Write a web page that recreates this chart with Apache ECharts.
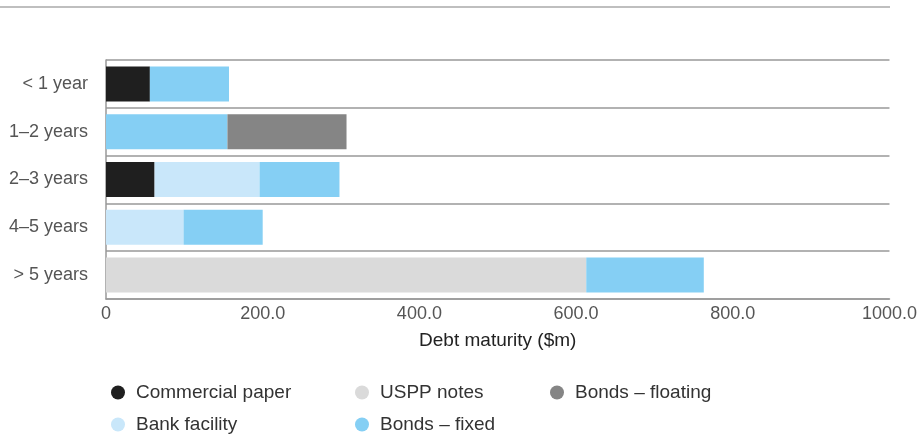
<!DOCTYPE html>
<html>
<head>
<meta charset="utf-8">
<script src="https://cdn.jsdelivr.net/npm/echarts@6/dist/echarts.min.js"></script>
<style>
  html, body { margin: 0; padding: 0; background: #fff; }
  #main { width: 920px; height: 436px; }
</style>
</head>
<body>
<div id="main"></div>
<script>
// maturity buckets, top to bottom
const categories = ['< 1 year', '1–2 years', '2–3 years', '4–5 years', '> 5 years']
const xTicks = [0, 200, 400, 600, 800, 1000]

// $m per bucket
const commercialPaper = [56, null, 62, null, null]
const bankFacility = [null, null, 134, 99, null]
const usppNotes = [null, null, null, null, 613]
const bondsFixed = [101, 155, 102, 101, 150]
const bondsFloating = [null, 152, null, null, null]

const font = 'Liberation Sans, Arial, Helvetica, sans-serif'

const makeSeries = (name, data, color) => ({
  name: name,
  type: 'bar',
  stack: 'total',
  barWidth: 35,
  data: data,
  itemStyle: { color: color },
  emphasis: { disabled: true }
})

// one legend per entry so the two rows line up in columns
const legendItem = (name, left, top) => ({
  left: left,
  top: top,
  padding: 0,
  icon: 'circle',
  itemWidth: 14,
  itemHeight: 14,
  selectedMode: false,
  data: [name],
  textStyle: { fontFamily: font, fontSize: 19, color: '#333', padding: [0, 0, 0, 6] }
})

let option = {
  animation: false,
  textStyle: { fontFamily: font },
  grid: { left: 106, right: 30, top: 60, bottom: 137 },
  graphic: [
    {
      type: 'line',
      shape: { x1: 0, y1: 7, x2: 890, y2: 7 },
      style: { stroke: '#aaa', lineWidth: 1.5 }
    }
  ],
  legend: [
    legendItem('Commercial paper', 111, 383),
    legendItem('Bank facility', 111, 415),
    legendItem('USPP notes', 355, 383),
    legendItem('Bonds – fixed', 355, 415),
    legendItem('Bonds – floating', 550, 383)
  ],
  xAxis: {
    type: 'value',
    min: xTicks[0],
    max: xTicks[xTicks.length - 1],
    interval: 200,
    name: 'Debt maturity ($m)',
    nameLocation: 'middle',
    nameGap: 32,
    nameTextStyle: { fontFamily: font, fontSize: 19, color: '#222' },
    axisLine: { show: true, lineStyle: { color: '#999', width: 1.5 } },
    axisTick: { show: false },
    splitLine: { show: false },
    axisLabel: {
      fontSize: 18,
      color: '#555',
      margin: 6,
      formatter: v => (v === 0 ? '0' : v.toFixed(1))
    }
  },
  yAxis: {
    type: 'category',
    inverse: true,
    data: categories,
    axisLine: { show: true, lineStyle: { color: '#999', width: 1.5 } },
    axisTick: { show: false },
    splitLine: { show: true, lineStyle: { color: '#999', width: 1.5 } },
    axisLabel: { fontSize: 18, color: '#555', margin: 18 }
  },
  series: [
    makeSeries('Commercial paper', commercialPaper, '#1f1f1f'),
    makeSeries('Bank facility', bankFacility, '#c9e7fa'),
    makeSeries('USPP notes', usppNotes, '#dadada'),
    makeSeries('Bonds – fixed', bondsFixed, '#85cff4'),
    makeSeries('Bonds – floating', bondsFloating, '#858585')
  ]
}

let myChart = echarts.init(document.getElementById('main'))
myChart.setOption(option)
</script>
</body>
</html>
